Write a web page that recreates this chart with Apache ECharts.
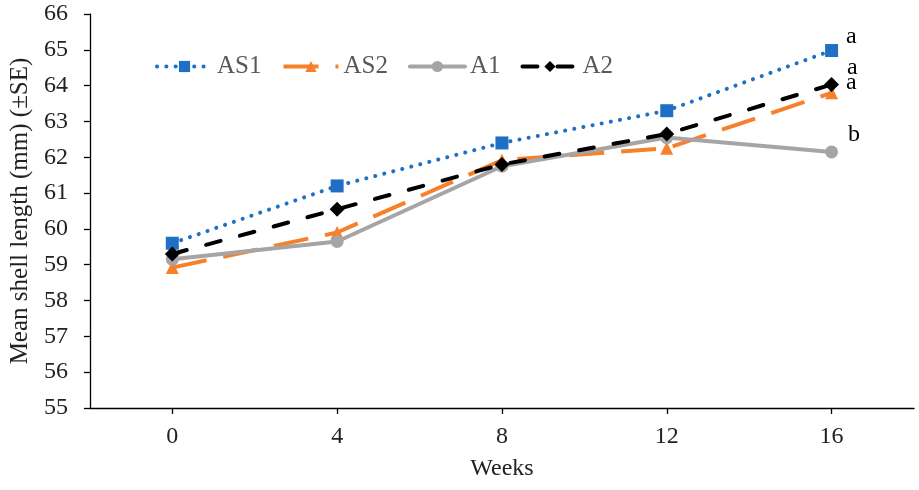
<!DOCTYPE html>
<html>
<head>
<meta charset="utf-8">
<script src="https://cdn.jsdelivr.net/npm/echarts@6/dist/echarts.min.js"></script>
<style>html,body{margin:0;padding:0;background:#fff}#c{width:919px;height:490px}</style>
</head>
<body>
<div id="c"></div>
<script>
var weeks = ['0', '4', '8', '12', '16'];
var seriesNames = ['AS1', 'AS2', 'A1', 'A2'];
var AS1 = [59.6, 61.2, 62.4, 63.3, 64.98];
var AS2 = [58.92, 59.9, 61.92, 62.25, 63.8];
var A1 = [59.15, 59.65, 61.75, 62.55, 62.15];
var A2 = [59.3, 60.55, 61.8, 62.65, 64.03];
var sigLetters = ['a', 'a', 'b', 'a'];
var yTicks = [55, 66, 1];

var FONT = "'Liberation Serif', 'Times New Roman', serif";
var colors = ['#1F70C4', '#F7802A', '#A5A5A5', '#000000'];
var symbols = ['rect', 'triangle', 'circle', 'diamond'];
var symbolSizes = [13, 13, 13, 15];
var lineTypes = [[0.1, 9.2], [35, 17], 'solid', [15, 20]];
var caps = ['round', 'butt', 'round', 'round'];
var widths = [4, 4, 4, 4];
var letterOffsets = [[3, -14], [3, -10], [5, -17], [3, -17]];
var allData = [AS1, AS2, A1, A2];

var series = allData.map(function (vals, s) {
  var last = vals.length - 1;
  return {
    name: seriesNames[s],
    type: 'line',
    symbol: symbols[s],
    symbolSize: symbolSizes[s],
    z: 2 + s,
    itemStyle: { color: colors[s] },
    lineStyle: { color: colors[s], width: widths[s], type: lineTypes[s], cap: caps[s] },
    data: vals.map(function (v, i) {
      if (i !== last) return v;
      return {
        value: v,
        label: {
          show: true, position: 'right', offset: letterOffsets[s],
          formatter: sigLetters[s], color: '#000', fontFamily: FONT, fontSize: 24
        }
      };
    }),
    animation: false
  };
});

var chart = echarts.init(document.getElementById('c'), null, { renderer: 'canvas' });
chart.setOption({
  backgroundColor: '#fff',
  animation: false,
  grid: { left: 85, right: 5, top: 14, bottom: 82, containLabel: false },
  legend: {
    data: seriesNames,
    left: 150, top: 49,
    itemWidth: 55, itemHeight: 14, itemGap: 20,
    lineStyle: { width: 'inherit' },
    textStyle: { fontFamily: FONT, fontSize: 25, color: '#595959' }
  },
  xAxis: {
    type: 'category',
    data: weeks,
    boundaryGap: true,
    name: 'Weeks',
    nameLocation: 'middle',
    nameGap: 49,
    nameTextStyle: { fontFamily: FONT, fontSize: 24, color: '#222' },
    axisLine: { lineStyle: { color: '#000', width: 1.3 } },
    axisTick: { show: true, alignWithLabel: true, length: 6, lineStyle: { color: '#000', width: 1.3 } },
    axisLabel: { fontFamily: FONT, fontSize: 24, color: '#222', margin: 17 },
    splitLine: { show: false }
  },
  yAxis: {
    type: 'value',
    min: yTicks[0], max: yTicks[1], interval: yTicks[2],
    name: 'Mean shell length (mm) (±SE)',
    nameLocation: 'middle',
    nameGap: 54,
    nameTextStyle: { fontFamily: FONT, fontSize: 25, color: '#222' },
    axisLine: { show: true, lineStyle: { color: '#000', width: 1.3 } },
    axisTick: { show: true, length: 6, lineStyle: { color: '#000', width: 1.3 } },
    axisLabel: { fontFamily: FONT, fontSize: 24, color: '#222', margin: 22 },
    splitLine: { show: false }
  },
  series: series
});
</script>
</body>
</html>
